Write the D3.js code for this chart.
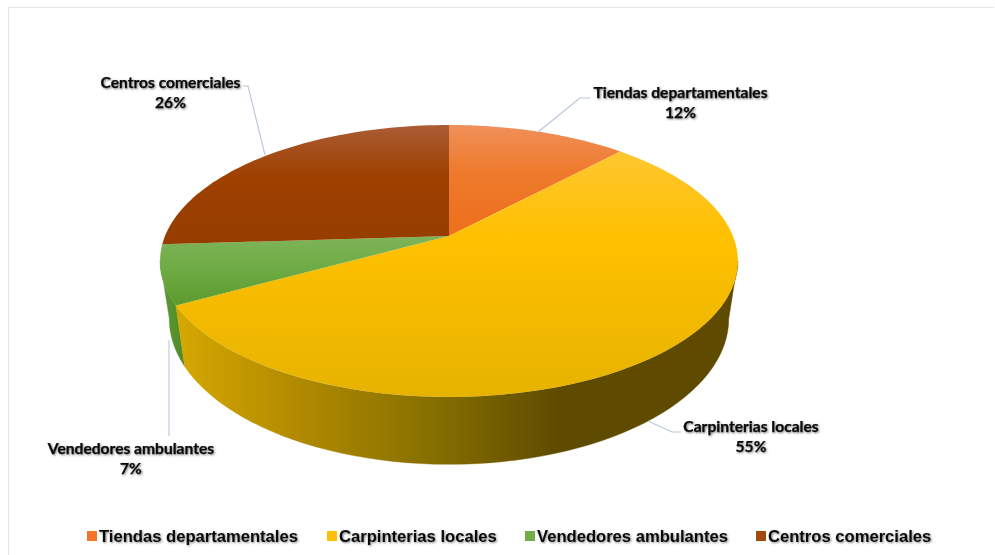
<!DOCTYPE html>
<html><head><meta charset="utf-8">
<script src="https://cdn.jsdelivr.net/npm/d3@7"></script>
<style>html,body{margin:0;background:#fff}svg{display:block}
.lbl{font-family:Lato,sans-serif;font-weight:700;font-size:15.6px;fill:#0a0a0a;stroke:#0a0a0a;stroke-width:.25px;filter:drop-shadow(1px 1px 1px rgba(0,0,0,.5))}
.leg{font-family:"Liberation Sans",Arial,sans-serif;font-weight:700;font-size:16.6px;fill:#0a0a0a;filter:drop-shadow(1px 1px 1px rgba(0,0,0,.5))}
</style></head><body><svg id="c" width="995" height="555"></svg>
<script>
const categories=["Tiendas departamentales","Carpinterias locales","Vendedores ambulantes","Centros comerciales"];
const values=[12,55,7,26];
const topStops=[["#f0905a","#ee7a2c","#ed6f1c"],["#fdc93e","#ffc000","#e6b300"],["#7fb45a","#70ad47","#5c9a2d"],["#ab5c36","#9e4000","#953d00"]];
const legendSwatch=["#f2752b","#ffc000","#70ad47","#a04a0e"];
const labelPos=[[680.5,98],[751,432],[131,454],[170.5,88]];
const legendX=[87,327,525,756];
const leaders=[[[538,132],[580,98],[590,98]],[[648,421],[672,432],[681,432]],[[169,340],[169,436]],[[265,155],[248,86],[243,86]]];

const svg=d3.select("#c");
const defs=svg.append("defs");
const slices=d3.pie().value(d=>d).sort(null)(values);

// Perspective projection of the pie's top and bottom discs
const k=0.1837;
function project(disc){return t=>{const u=Math.sin(t),v=-Math.cos(t),w=1-k*v;return [449+disc.a*u/w,disc.y0+disc.b*v/w];};}
const topDisc=project({a:284,b:131.4,y0:236});
const botDisc=project({a:275,b:140.7,y0:292});
const line=d3.line();
const arcPts=(f,a,b)=>d3.range(0,61).map(i=>f(a+(b-a)*i/60));

// frame
svg.append("path").attr("d",line([[8.5,555],[8.5,7.5],[994,7.5]])).attr("fill","none").attr("stroke","#e4e5ec").attr("stroke-width",1.2);

// gradients
function vgrad(id,stops,y1,y2){const g=defs.append("linearGradient").attr("id",id).attr("gradientUnits","userSpaceOnUse").attr("x1",0).attr("x2",0).attr("y1",y1).attr("y2",y2);
 stops.forEach((c,i)=>g.append("stop").attr("offset",[0,.42,1][i]).attr("stop-color",c));}
const sy=[[125,236],[125,397],[235,305],[125,245]];
slices.forEach((s,i)=>vgrad("g"+i,topStops[i],sy[i][0],sy[i][1]));
const gs=defs.append("linearGradient").attr("id","sideY").attr("gradientUnits","userSpaceOnUse").attr("x1",176).attr("x2",738).attr("y1",0).attr("y2",0);
[[0,"#d6a800"],[.2,"#b48c00"],[.45,"#877000"],[.68,"#5f4b00"],[1,"#5f4b00"]].forEach(d=>gs.append("stop").attr("offset",d[0]).attr("stop-color",d[1]));
const gg=defs.append("linearGradient").attr("id","sideG").attr("gradientUnits","userSpaceOnUse").attr("x1",160).attr("x2",184).attr("y1",0).attr("y2",0);
[[0,"#5f9a36"],[1,"#4f8a28"]].forEach(d=>gg.append("stop").attr("offset",d[0]).attr("stop-color",d[1]));

// sides
function side(a,b,fill){
 const pts=arcPts(topDisc,a,b).concat(arcPts(botDisc,a,b).reverse());
 svg.append("path").attr("d",line(pts)+"Z").attr("fill",fill).attr("stroke",fill).attr("stroke-width",.4);
}
const visibleRight=1.755, visibleLeft=4.53;
side(slices[2].startAngle,visibleLeft,"url(#sideG)");
side(visibleRight,slices[1].endAngle,"url(#sideY)");

// tops
const apex=[449,236];
slices.forEach((s,i)=>{
 svg.append("path").attr("d",line([apex,...arcPts(topDisc,s.startAngle,s.endAngle)])+"Z").attr("fill",`url(#g${i})`);
});

// leaders
leaders.forEach(l=>svg.append("path").attr("d",line(l)).attr("fill","none").attr("stroke","#b9c6d9").attr("stroke-width",1.1));

// labels
categories.forEach((c,i)=>{
 const t=svg.append("text").attr("class","lbl").attr("text-anchor","middle").attr("x",labelPos[i][0]).attr("y",labelPos[i][1]);
 t.append("tspan").attr("x",labelPos[i][0]).text(c);
 t.append("tspan").attr("x",labelPos[i][0]).attr("dy",20).text(values[i]+"%");
});

// legend
categories.forEach((c,i)=>{
 svg.append("rect").attr("x",legendX[i]).attr("y",531).attr("width",10).attr("height",10).attr("fill",legendSwatch[i]);
 svg.append("text").attr("class","leg").attr("x",legendX[i]+12).attr("y",542).text(c);
});
</script></body></html>
